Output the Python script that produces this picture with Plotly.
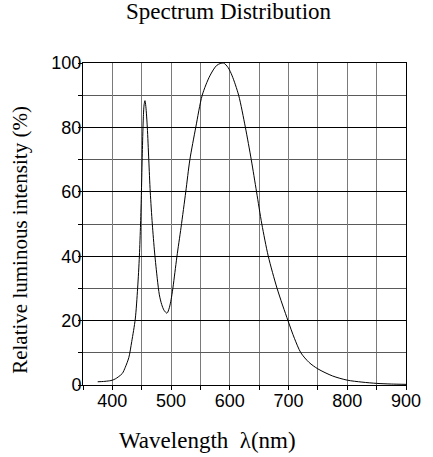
import plotly.graph_objects as go

wavelength = [375, 385, 395, 400, 405, 410, 417, 422, 428, 433, 439, 443, 446, 448, 449.5,
              451, 452.5, 454, 455.5, 457, 459.5, 462, 464.5, 468, 472, 476.5, 480, 484, 488, 493,
              497, 500, 503, 506.5, 510, 517, 525, 532, 542, 553, 566, 578, 589, 597, 604, 615,
              626.5, 636.5, 645.5, 654.5, 665.5, 680.5, 699, 710, 721, 735, 750, 775, 800,
              825, 850, 875, 900]
intensity = [1.0, 1.1, 1.3, 1.5, 1.9, 2.5, 3.6, 5.5, 8.5, 13.5, 20.5, 30, 40, 50, 60,
             72, 82, 87, 88.3, 86.5, 80, 70, 60, 50, 41, 33, 28, 25, 23.2, 22.3,
             24, 26.5, 30, 35, 40, 49, 60, 70, 80, 90, 96, 99.3, 100, 98.6, 96, 90,
             80, 70, 60, 50, 40, 30, 20, 14.5, 10, 7, 5, 2.8, 1.5,
             0.9, 0.5, 0.3, 0.2]

x_ticks = [400, 500, 600, 700, 800, 900]
y_ticks = [0, 20, 40, 60, 80, 100]

title_text = "Spectrum Distribution"
x_title = "Wavelength&nbsp;&nbsp;λ(nm)"
y_title = "Relative luminous intensity (%)"

fig = go.Figure()
fig.add_trace(go.Scatter(x=wavelength, y=intensity, mode="lines",
                         line=dict(color="black", width=1, shape="spline", smoothing=0.8),
                         showlegend=False, hoverinfo="skip"))

tick_font = dict(family="Liberation Sans, Arial", size=18, color="black")
serif = "Liberation Serif, Times New Roman"

fig.update_layout(
    width=433, height=457,
    margin=dict(l=83, r=19, t=63, b=72),
    paper_bgcolor="white", plot_bgcolor="white",
    xaxis=dict(range=[350, 900], tickvals=x_ticks, ticks="outside", ticklen=4,
               tickcolor="black", tickfont=tick_font, showgrid=True, gridcolor="#7a7a7a",
               gridwidth=1, showline=True, linecolor="black", linewidth=1, mirror=True,
               zeroline=False, ticklabelstandoff=-5,
               minor=dict(dtick=50, tick0=350, ticks="outside", ticklen=4, tickcolor="black",
                          showgrid=True, gridcolor="#7a7a7a", gridwidth=1)),
    yaxis=dict(range=[0, 100], tickvals=y_ticks, ticks="outside", ticklen=4,
               tickcolor="black", tickfont=tick_font, showgrid=True, gridcolor="black",
               gridwidth=1, showline=True, linecolor="black", linewidth=1, mirror=True,
               zeroline=False, ticklabelstandoff=-7,
               minor=dict(dtick=10, tick0=0, ticks="outside", ticklen=4, tickcolor="black",
                          showgrid=True, gridcolor="#5a5a5a", gridwidth=1)),
    annotations=[
        dict(text=title_text, xref="paper", yref="paper", x=0.452, y=1.16,
             showarrow=False, font=dict(family=serif, size=23, color="black"),
             xanchor="center", yanchor="middle"),
        dict(text=x_title, xref="paper", yref="paper", x=0.385, y=-0.172,
             showarrow=False, font=dict(family=serif, size=23, color="black"),
             xanchor="center", yanchor="middle"),
        dict(text=y_title, xref="paper", yref="paper", x=-0.196, y=0.45,
             showarrow=False, textangle=-90, font=dict(family=serif, size=21, color="black"),
             xanchor="center", yanchor="middle"),
    ],
)

# remove the default 8px page margin so the figure fills the window exactly
fig.write_html("out.html", config={"displayModeBar": False},
               post_script="document.body.style.margin='0px';")
